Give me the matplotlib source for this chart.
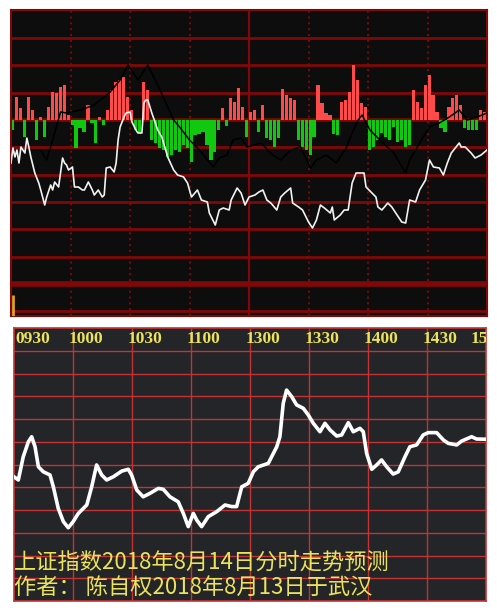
import numpy as np
import matplotlib.pyplot as plt

plt.rcParams['font.family'] = ['Noto Sans CJK SC', 'DejaVu Sans']

# ---- top panel data (minutes after 09:30, arbitrary index units) ----
step = 27.3  # one grid division in the top panel

bar_t = np.arange(0, 240, 2)
bar_v = [-10, 23, 12, -17, 23, 10, -20, 3, -17, 13,
         28, 27, 33, 35, 5, -5, -28, -8, -12, 15,
         -3, -23, 3, -5, 10, 30, 38, 40, 43, 23,
         10, -10, -13, 38, 30, -20, -23, -28, -30, -37,
         -35, -30, -32, -25, -28, -42, -15, -14, -12, -25,
         -40, -32, -10, 12, -6, 22, 18, 32, 13, -17,
         8, 10, -12, 15, -18, -20, -27, -18, 31, 25,
         22, 20, -20, -27, -30, -35, -17, 35, 17, 7,
         5, -14, -15, 18, 20, 28, 55, 40, 17, 13,
         -30, -27, -20, -13, -17, -20, -7, -22, -20, -27,
         -25, 30, 18, 12, 35, 45, 25, 8, -8, -12,
         13, 22, 25, 15, -8, -10, -10, -10, 10, 8]

price_t = [0, 1, 2, 3, 4, 5, 7, 8, 9, 10, 12, 14, 15, 17, 18, 20, 21, 22, 24, 26,
           27, 28, 29, 31, 32, 34, 36, 37, 39, 41, 42, 44, 46, 47, 48, 50, 52, 53, 54, 55,
           57, 58, 60, 61, 63, 64, 66, 67, 68, 69, 71, 74, 76, 78, 79, 82, 84, 87, 89, 91,
           94, 96, 99, 100, 103, 105, 107, 110, 111, 114, 116, 118, 120, 123, 125, 127, 129, 131, 134, 136,
           138, 141, 142, 145, 147, 150, 152, 154, 156, 158, 161, 162, 163, 166, 168, 170, 172, 174, 176, 178,
           179, 182, 184, 185, 187, 190, 192, 194, 197, 199, 201, 204, 206, 209, 211, 213, 216, 218, 220, 222,
           226, 227, 229, 232, 234, 237, 240]
price_v = [-43, -28, -37, -30, -43, -27, -33, -18, -27, -37, -53, -63, -70, -85, -77, -65, -70, -62, -67, -38,
           -43, -45, -50, -47, -67, -67, -70, -70, -62, -70, -75, -70, -77, -75, -48, -47, -52, -43, -20, -7,
           3, 7, 8, -2, -10, -13, -13, 17, 20, 20, 7, -10, -17, -30, -37, -50, -55, -57, -63, -77,
           -70, -80, -82, -93, -105, -90, -88, -90, -80, -68, -73, -85, -77, -75, -72, -70, -80, -83, -90, -77,
           -73, -68, -83, -87, -90, -102, -108, -100, -85, -88, -93, -87, -100, -95, -90, -90, -63, -53, -53, -53,
           -67, -73, -77, -87, -90, -83, -87, -93, -102, -103, -80, -82, -70, -60, -40, -47, -48, -55, -43, -33,
           -23, -27, -27, -33, -38, -35, -30]

avg_t = [10, 15, 18, 21, 25, 28, 35, 42, 50, 55, 59, 64, 69, 74, 79, 82, 85, 90, 95, 102,
         105, 109, 112, 116, 119, 126, 132, 136, 141, 146, 151, 154, 159, 164, 169, 172, 175, 177, 181, 186,
         193, 196, 199, 201, 206, 211, 216, 221, 226, 230, 235, 240]
avg_v = [-30, -30, -40, -20, 8, 7, 10, 15, 28, 40, 55, 40, 55, 35, 13, 0, -7, -20, -30, -47,
         -38, -35, -20, -18, -27, -23, -35, -40, -30, -27, -48, -40, -35, -43, -28, -13, 0, 5, -10, -20,
         -33, -43, -53, -40, -23, -7, -3, 3, 10, 0, 3, 7]

# ---- bottom panel data (forecast line, grid units 0..12) ----
fc_t = [0, 2.2, 4.7, 7.3, 9, 10.7, 12.4, 14.9, 18.3, 20, 22.5, 25.1, 27.6, 30.1, 32.7, 37, 39.5, 42, 44.6, 47.1,
        50.5, 54.8, 58.1, 59.8, 62.4, 65.7, 69.1, 73.4, 75.9, 79.3, 83.5, 86.1, 88.6, 91.2, 92.9, 95.4, 98.8, 103.1, 107.3, 110.7,
        113.2, 115.8, 119.1, 121.7, 124.2, 129.3, 133.6, 135.2, 136.9, 138.6, 141.2, 143.7, 147.1, 149.6, 152.2, 155.6, 158.1, 160.7, 164.1, 166.6,
        170, 172.5, 175.9, 177.6, 179.3, 181.9, 184.4, 186.9, 189.5, 192.8, 195.4, 198.8, 201.3, 204.7, 208.1, 210.6, 214.9, 218.3, 220.8, 225.1,
        227.6, 232.7, 235.2, 240]
fc_v = [5.46, 5.32, 6.34, 7.0, 7.22, 6.78, 5.9, 5.68, 5.54, 5.02, 4.07, 3.49, 3.22, 3.49, 3.85, 4.22, 5.02, 5.98, 5.54, 5.32,
        5.46, 5.71, 5.79, 5.54, 4.88, 4.58, 4.73, 4.95, 4.91, 4.58, 4.36, 3.85, 3.27, 3.85, 3.56, 3.27, 3.71, 3.93, 4.22, 4.15,
        4.15, 5.02, 5.17, 5.68, 5.9, 6.05, 6.78, 7.22, 8.69, 9.27, 8.98, 8.62, 8.47, 8.18, 7.81, 7.44, 7.81, 7.52, 7.25, 7.3,
        7.84, 7.44, 7.59, 7.44, 6.49, 5.79, 5.98, 6.2, 5.9, 5.58, 5.68, 6.34, 6.78, 6.86, 7.3, 7.4, 7.4, 7.08, 6.93, 6.86,
        7.03, 7.22, 7.12, 7.11]

time_ticks = [0, 30, 60, 90, 120, 150, 180, 210, 240]
time_labels = ['0930', '1000', '1030', '1100', '1300', '1330', '1400', '1430', '1500']
title_lines = ['上证指数2018年8月14日分时走势预测', '作者： 陈自权2018年8月13日于武汉']

W, H = 497, 612


def rect(x0, y0, x1, y1):
    return [x0 / W, 1 - y1 / H, (x1 - x0) / W, (y1 - y0) / H]


fig = plt.figure(figsize=(W / 100, H / 100), dpi=100)
fig.patch.set_facecolor('white')

# top panel
top = fig.add_axes(rect(11, 10, 487, 316))
top.set_facecolor('#0d0d0d')
top.set_xlim(0, 240)
top.set_ylim(-196, 110)
dark_red = '#800808'
for k in range(-7, 4):
    lw = 2.0
    if k == -6:
        lw = 4.0
    if k == 0:
        lw = 2.6
    top.axhline(k * step, color=dark_red, lw=lw, zorder=1)
for t in time_ticks[1:-1]:
    if t == 120:
        top.axvline(t, color=dark_red, lw=1.6, zorder=1)
    else:
        top.axvline(t, color=dark_red, lw=1.4, ls=(0, (1, 2)), zorder=1)

cols = ['#ff4a4a' if v > 0 else '#10c810' for v in bar_v]
top.bar(bar_t, bar_v, width=1.6, align='edge', color=cols, zorder=2)
top.plot(avg_t, avg_v, color='black', lw=1.1, zorder=3)
top.plot(price_t, price_v, color='#f2f2f2', lw=1.2, zorder=4)
top.vlines(0.8, -196, -175, color='#e0a020', lw=2, zorder=4)

top.set_xticks([])
top.set_yticks([])
for s in top.spines.values():
    s.set_color(dark_red)
    s.set_linewidth(1.5)

# bottom panel
bot = fig.add_axes(rect(14, 328, 486, 601))
bot.set_facecolor('#232528')
bot.set_xlim(0, 240)
bot.set_ylim(0, 12)
grid_red = '#c43434'
for k in range(1, 12):
    bot.axhline(k, color=grid_red, lw=1, zorder=1)
for t in time_ticks[1:-1]:
    bot.axvline(t, color=grid_red, lw=1, zorder=1)

bot.plot(fc_t, fc_v, color='white', lw=2.6, solid_joinstyle='round', zorder=3)

yellow = '#ece35a'
for t, lab in zip(time_ticks, time_labels):
    x = max(t - 2.5, 0.5)
    if t == 240:
        x = 232.3
    bot.text(x, 11.5, lab, color=yellow, fontsize=12.5, fontweight='bold',
             family='Liberation Serif', ha='left', va='center', clip_on=True, zorder=4)

bot.text(0, 1.65, title_lines[0], color=yellow, fontsize=16, ha='left', va='center', zorder=4)
bot.text(0, 0.58, title_lines[1], color=yellow, fontsize=16, ha='left', va='center', zorder=4)

bot.set_xticks([])
bot.set_yticks([])
for s in bot.spines.values():
    s.set_color(grid_red)
    s.set_linewidth(1.2)

fig.savefig('out.png', dpi=100)
